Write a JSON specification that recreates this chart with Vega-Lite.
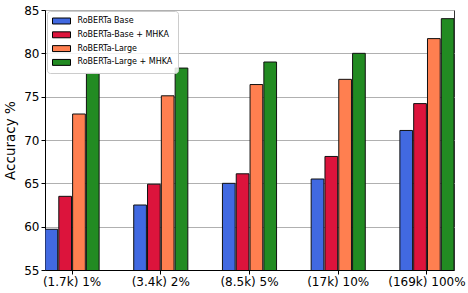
{
  "$schema": "https://vega.github.io/schema/vega-lite/v6.json",
  "autosize": "none",
  "width": 409,
  "height": 260,
  "padding": {"left": 45, "top": 10, "right": 14, "bottom": 23},
  "config": {
    "font": "DejaVu Sans",
    "view": {"stroke": "#333333", "strokeWidth": 1}
  },
  "data": {
    "values": [
      {"group": "(1.7k) 1%", "model": "RoBERTa Base", "acc": 59.7},
      {"group": "(1.7k) 1%", "model": "RoBERTa-Base + MHKA", "acc": 63.5},
      {"group": "(1.7k) 1%", "model": "RoBERTa-Large", "acc": 73.0},
      {"group": "(1.7k) 1%", "model": "RoBERTa-Large + MHKA", "acc": 77.7},
      {"group": "(3.4k) 2%", "model": "RoBERTa Base", "acc": 62.5},
      {"group": "(3.4k) 2%", "model": "RoBERTa-Base + MHKA", "acc": 64.9},
      {"group": "(3.4k) 2%", "model": "RoBERTa-Large", "acc": 75.1},
      {"group": "(3.4k) 2%", "model": "RoBERTa-Large + MHKA", "acc": 78.3},
      {"group": "(8.5k) 5%", "model": "RoBERTa Base", "acc": 65.0},
      {"group": "(8.5k) 5%", "model": "RoBERTa-Base + MHKA", "acc": 66.1},
      {"group": "(8.5k) 5%", "model": "RoBERTa-Large", "acc": 76.4},
      {"group": "(8.5k) 5%", "model": "RoBERTa-Large + MHKA", "acc": 79.0},
      {"group": "(17k) 10%", "model": "RoBERTa Base", "acc": 65.5},
      {"group": "(17k) 10%", "model": "RoBERTa-Base + MHKA", "acc": 68.1},
      {"group": "(17k) 10%", "model": "RoBERTa-Large", "acc": 77.0},
      {"group": "(17k) 10%", "model": "RoBERTa-Large + MHKA", "acc": 80.0},
      {"group": "(169k) 100%", "model": "RoBERTa Base", "acc": 71.1},
      {"group": "(169k) 100%", "model": "RoBERTa-Base + MHKA", "acc": 74.2},
      {"group": "(169k) 100%", "model": "RoBERTa-Large", "acc": 81.7},
      {"group": "(169k) 100%", "model": "RoBERTa-Large + MHKA", "acc": 84.0}
    ]
  },
  "mark": {"type": "bar", "stroke": "#111111", "strokeWidth": 1, "clip": true},
  "encoding": {
    "x": {
      "field": "group",
      "type": "nominal",
      "sort": null,
      "scale": {"paddingInner": 0.39, "paddingOuter": 0, "align": 0.5},
      "axis": {
        "title": null,
        "labelAngle": 0,
        "labelFontSize": 12,
        "labelColor": "#000000",
        "labelPadding": 2,
        "tickSize": 4,
        "tickColor": "#000000",
        "domainColor": "#000000",
        "grid": false
      }
    },
    "xOffset": {
      "field": "model",
      "type": "nominal",
      "sort": ["RoBERTa Base", "RoBERTa-Base + MHKA", "RoBERTa-Large", "RoBERTa-Large + MHKA"],
      "scale": {"paddingInner": 0.08, "paddingOuter": 0}
    },
    "y": {
      "field": "acc",
      "type": "quantitative",
      "scale": {"domain": [55, 85], "nice": false, "zero": false},
      "axis": {
        "title": "Accuracy %",
        "titleFontSize": 13.5,
        "titleFontWeight": "normal",
        "titleColor": "#000000",
        "titlePadding": 6,
        "values": [55, 60, 65, 70, 75, 80, 85],
        "labelFontSize": 12,
        "labelColor": "#000000",
        "labelPadding": 2,
        "tickSize": 4,
        "tickColor": "#000000",
        "domainColor": "#000000",
        "gridColor": "#b0b0b0",
        "gridWidth": 1
      }
    },
    "color": {
      "field": "model",
      "type": "nominal",
      "scale": {
        "domain": ["RoBERTa Base", "RoBERTa-Base + MHKA", "RoBERTa-Large", "RoBERTa-Large + MHKA"],
        "range": ["#4169E1", "#DC143C", "#FF7F50", "#228B22"]
      },
      "legend": {
        "title": null,
        "orient": "none",
        "legendX": 2,
        "legendY": 1,
        "padding": 5,
        "labelFontSize": 8,
        "labelColor": "#000000",
        "labelOffset": 15.5,
        "rowPadding": 3.8,
        "symbolType": "M-1,-0.66H3V0.66H-1Z",
        "symbolSize": 81,
        "symbolStrokeColor": "#000000",
        "symbolStrokeWidth": 1,
        "symbolOpacity": 1,
        "strokeColor": "#cccccc",
        "fillColor": "rgba(255,255,255,0.85)",
        "cornerRadius": 3
      }
    }
  }
}
